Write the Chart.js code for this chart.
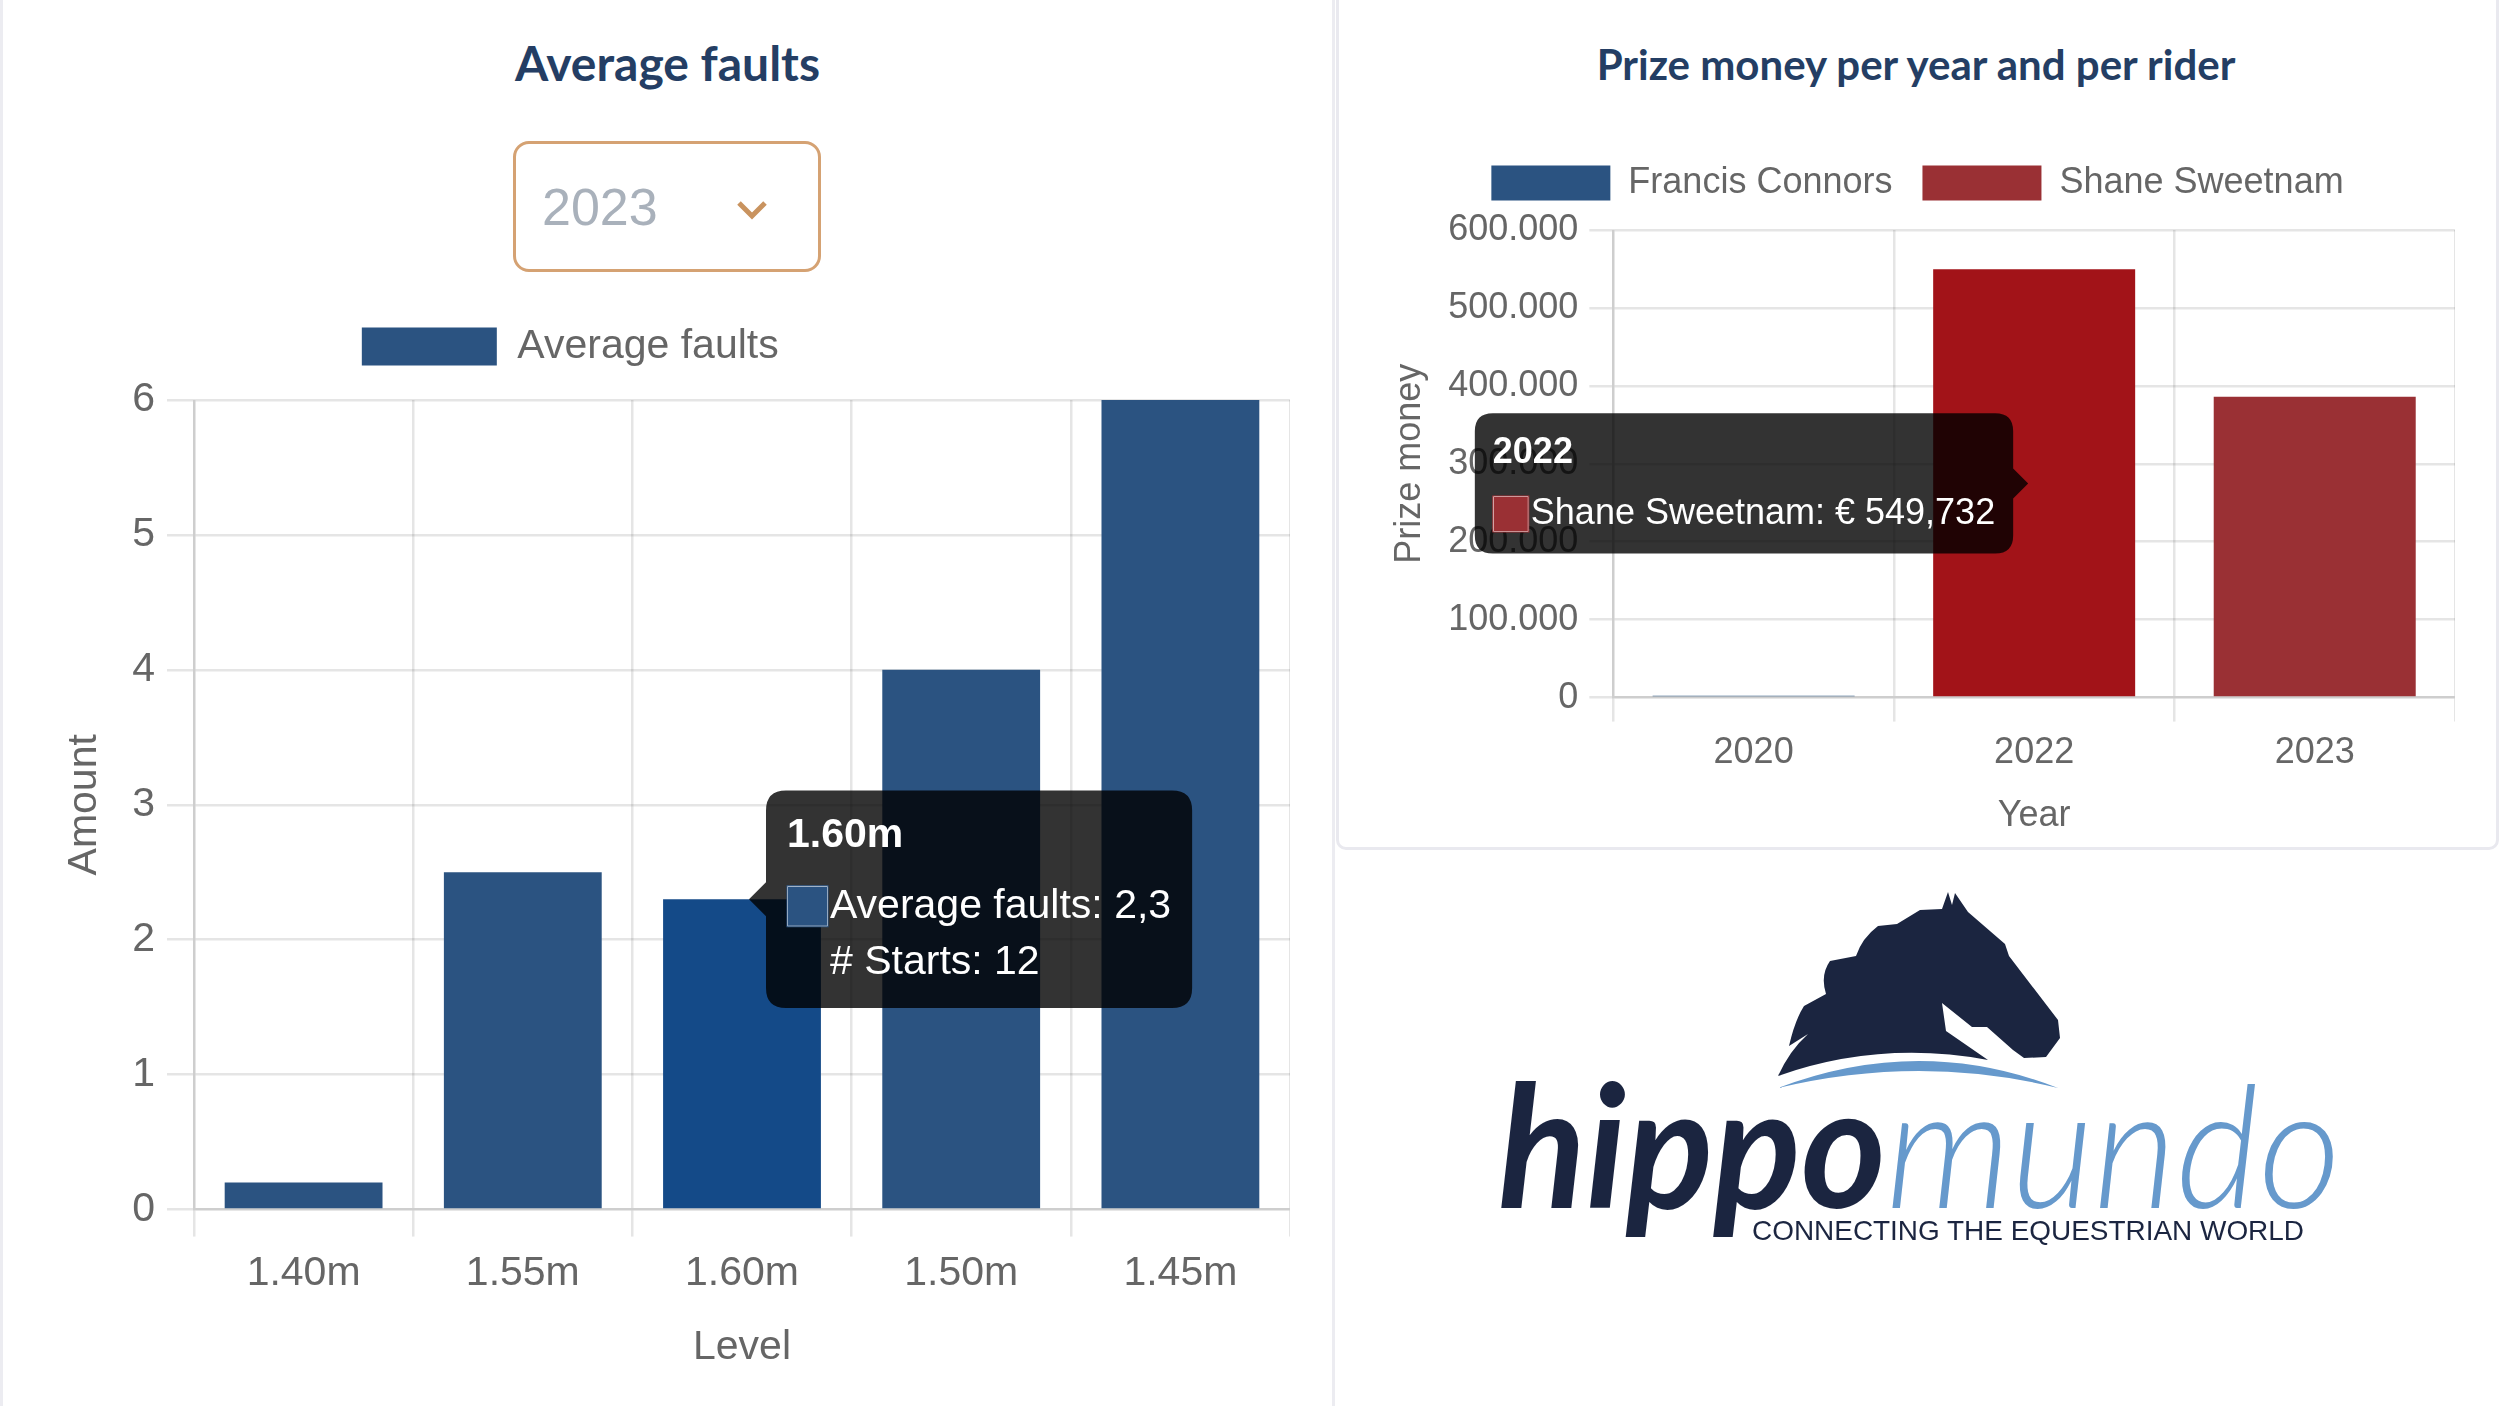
<!DOCTYPE html>
<html>
<head>
<meta charset="utf-8">
<script src="https://cdn.jsdelivr.net/npm/chart.js@4.4.0/dist/chart.umd.min.js"></script>
<style>
html, body { margin: 0; padding: 0; background: #fff; }
body { width: 2500px; height: 1406px; position: relative; overflow: hidden; font-family: "Liberation Sans", Arial, sans-serif; }
.card { position: absolute; background: #fff; box-sizing: border-box; }
#leftCard { left: 0; top: -20px; width: 1335px; height: 1450px; border-left: 3px solid #ececf1; border-right: 3px solid #ececf1; }
#rightCard { left: 1336px; top: -20px; width: 1163px; height: 870px; border: 3px solid #e9e9ef; border-radius: 10px; }
.title { position: absolute; font-family: Lato, sans-serif; font-weight: 700; color: #243e64; text-align: center; white-space: nowrap; }
#select { position: absolute; left: 513px; top: 141px; width: 308px; height: 131px; box-sizing: border-box; border: 3px solid #d5a273; border-radius: 16px; }
#select span { position: absolute; left: 26px; top: 37px; font-size: 52px; line-height: 52px; color: #a9b1bb; }
#select svg { position: absolute; left: 220px; top: 56px; }
.wrap { position: absolute; }
</style>
</head>
<body>
<div class="card" id="leftCard"></div>
<div class="card" id="rightCard"></div>

<div class="title" style="left:0;width:1335px;top:34px;font-size:48px;">Average faults</div>
<div id="select"><span>2023</span>
  <svg width="32" height="20" viewBox="0 0 32 20"><polyline points="3,3 16,16 29,3" fill="none" stroke="#c9935f" stroke-width="5"/></svg>
</div>
<div class="title" style="left:1336px;width:1160px;top:39px;font-size:42px;">Prize money per year and per rider</div>

<div class="wrap" style="left:40px;top:292px;"><canvas id="faults" width="1250" height="1089"></canvas></div>
<div class="wrap" style="left:1380px;top:135px;"><canvas id="prize" width="1075" height="709"></canvas></div>

<svg style="position:absolute;left:0;top:0" width="2500" height="1406">
  <path fill="#1b2540" d="M1948,892 L1952,905 L1955,893 L1968,912 L2005,944 L2009,956 L2058,1020 L2060,1038 L2046,1057 L2024,1058 L2013,1050 L1987,1027 L1972,1027 L1942,1003 L1946,1031 L1988,1060 Q1880,1040 1778,1076 Q1790,1050 1808,1034 L1789,1046 Q1795,1020 1804,1006 L1826,994 Q1820,975 1830,961 L1856,956 Q1862,938 1878,926 L1897,924 L1920,910 L1942,909 Z"/>
  <path fill="#6699cc" d="M1778,1088 Q1920,1034 2058,1088 Q1920,1054 1778,1088 Z"/>
  <text x="1498" y="1208" font-family="Lato" font-weight="700" font-style="italic" font-size="170" fill="#1b2540" textLength="388" lengthAdjust="spacingAndGlyphs">hippo</text>
  <text x="1886" y="1208" font-family="Lato" font-weight="300" font-style="italic" font-size="170" fill="#6699cc" textLength="455" lengthAdjust="spacingAndGlyphs">mundo</text>
  <text x="1752" y="1240" font-family="Liberation Sans Narrow, Liberation Sans" font-size="28" fill="#1b2540" textLength="552" lengthAdjust="spacingAndGlyphs">CONNECTING THE EQUESTRIAN WORLD</text>
</svg>

<script>
// left chart
const levels = ['1.40m', '1.55m', '1.60m', '1.50m', '1.45m'];
const avgFaults = [0.2, 2.5, 2.3, 4, 6];
const starts = [null, null, 12, null, null];

// right chart
const years = ['2020', '2022', '2023'];
const francisPrize = [2500, 0, 0];
const shanePrize = [0, 549732, 386000];

const blue = '#2b5381';
const red = '#9a3034';
const grid = 'rgba(0,0,0,0.1)';

function dots(v) {
    return String(v).replace(/\B(?=(\d{3})+(?!\d))/g, '.');
}
function commas(v) {
    return String(v).replace(/\B(?=(\d{3})+(?!\d))/g, ',');
}

Chart.defaults.font.family = '"Liberation Sans", Arial, sans-serif';
Chart.defaults.color = '#666';

var faultsChart = new Chart(document.getElementById('faults'), {
    type: 'bar',
    data: {
        labels: levels,
        datasets: [
            { label: 'Average faults', data: avgFaults, backgroundColor: blue, borderColor: blue, borderWidth: 0 },
            { label: '', data: starts, hidden: true, backgroundColor: 'transparent', borderColor: 'transparent', borderWidth: 0 }
        ]
    },
    options: {
        responsive: false,
        animation: false,
        events: [],
        devicePixelRatio: 1,
        plugins: {
            legend: {
                labels: { font: { size: 41 }, boxWidth: 135, boxHeight: 38, padding: 34 }
            },
            subtitle: { display: true, text: '', weight: 500, padding: 0, font: { size: 20, lineHeight: '23px' } },
            tooltip: {
                xAlign: 'left',
                yAlign: 'center',
                backgroundColor: 'rgba(0,0,0,0.8)',
                titleFont: { size: 41, weight: 'bold' },
                bodyFont: { size: 41 },
                padding: 21,
                caretSize: 17,
                caretPadding: 7,
                cornerRadius: 20,
                titleMarginBottom: 21,
                bodySpacing: 7,
                callbacks: {
                    label: function (ctx) { return ctx.dataset.label + ': ' + String(ctx.parsed.y).replace('.', ','); },
                    afterLabel: function (ctx) { return '# Starts: ' + starts[ctx.dataIndex]; }
                }
            }
        },
        scales: {
            x: {
                grid: { color: grid, lineWidth: 2.5, tickLength: 27 },
                border: { color: grid, width: 2.5 },
                ticks: { font: { size: 41 }, padding: 12 },
                title: { display: true, text: 'Level', font: { size: 41 }, padding: { top: 13, bottom: 9 } }
            },
            y: {
                min: 0,
                max: 6,
                grid: { color: grid, lineWidth: 2.5, tickLength: 27 },
                border: { color: grid, width: 2.5 },
                ticks: { stepSize: 1, font: { size: 41 }, padding: 12 },
                title: { display: true, text: 'Amount', font: { size: 41 }, padding: { top: 20, bottom: 11 } }
            }
        }
    }
});

var prizeChart = new Chart(document.getElementById('prize'), {
    type: 'bar',
    data: {
        labels: years,
        datasets: [
            { label: 'Francis Connors', data: francisPrize, backgroundColor: blue, borderColor: blue, borderWidth: 0 },
            { label: 'Shane Sweetnam', data: shanePrize, backgroundColor: red, borderColor: red, borderWidth: 0 }
        ]
    },
    options: {
        responsive: false,
        animation: false,
        events: [],
        devicePixelRatio: 1,
        plugins: {
            legend: {
                labels: { font: { size: 36 }, boxWidth: 119, boxHeight: 35, padding: 30 }
            },
            subtitle: { display: true, text: '', weight: 500, padding: 0, font: { size: 16, lineHeight: '19px' } },
            tooltip: {
                mode: 'index',
                xAlign: 'right',
                yAlign: 'center',
                backgroundColor: 'rgba(0,0,0,0.8)',
                titleFont: { size: 36, weight: 'bold' },
                bodyFont: { size: 36 },
                padding: 18,
                caretSize: 15,
                caretPadding: 6,
                cornerRadius: 18,
                titleMarginBottom: 18,
                filter: function (item) { return item.parsed.y > 0; },
                callbacks: {
                    label: function (ctx) { return ctx.dataset.label + ': € ' + commas(ctx.parsed.y); }
                }
            }
        },
        scales: {
            x: {
                stacked: true,
                grid: { color: grid, lineWidth: 2.5, tickLength: 24 },
                border: { color: grid, width: 2.5 },
                ticks: { font: { size: 36 }, padding: 10 },
                title: { display: true, text: 'Year', font: { size: 36 }, padding: { top: 10, bottom: 6 } }
            },
            y: {
                stacked: true,
                min: 0,
                max: 600000,
                grid: { color: grid, lineWidth: 2.5, tickLength: 24 },
                border: { color: grid, width: 2.5 },
                ticks: { stepSize: 100000, font: { size: 36 }, padding: 11, callback: function (v) { return dots(v); } },
                title: { display: true, text: 'Prize money', font: { size: 36 }, padding: { top: 8, bottom: 6 } }
            }
        }
    }
});

// show the hovered state as in the screenshot
faultsChart.setActiveElements([{ datasetIndex: 0, index: 2 }]);
faultsChart.tooltip.setActiveElements([{ datasetIndex: 0, index: 2 }], { x: 0, y: 0 });
faultsChart.update();

var prizeActive = [{ datasetIndex: 0, index: 1 }, { datasetIndex: 1, index: 1 }];
prizeChart.setActiveElements(prizeActive);
prizeChart.tooltip.setActiveElements(prizeActive, { x: 0, y: 0 });
prizeChart.update();
</script>
</body>
</html>
